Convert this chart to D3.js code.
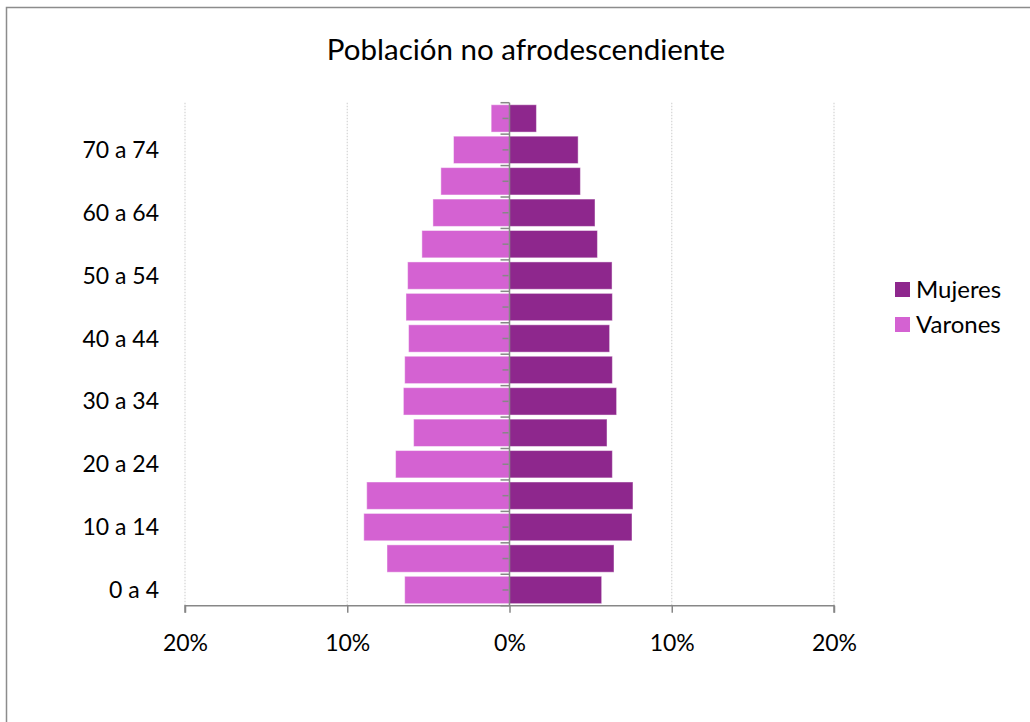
<!DOCTYPE html>
<html>
<head>
<meta charset="utf-8">
<script src="https://cdn.jsdelivr.net/npm/d3@7"></script>
<style>
  html, body { margin: 0; padding: 0; background: #fff; }
  svg { display: block; font-family: Lato, "Open Sans", sans-serif; }
</style>
</head>
<body>
<svg id="chart" width="1030" height="722"></svg>
<script>
// Age groups, from youngest to oldest
const ageGroups = ["0 a 4", "5 a 9", "10 a 14", "15 a 19", "20 a 24", "25 a 29", "30 a 34", "35 a 39",
                   "40 a 44", "45 a 49", "50 a 54", "55 a 59", "60 a 64", "65 a 69", "70 a 74", "75 y más"];
// Share of total population (%) by age group
const mujeres = [5.68, 6.44, 7.55, 7.61, 6.34, 6.01, 6.60, 6.34, 6.17, 6.34, 6.32, 5.42, 5.27, 4.37, 4.23, 1.66];
const varones = [6.46, 7.55, 8.98, 8.80, 7.02, 5.91, 6.54, 6.46, 6.22, 6.38, 6.28, 5.40, 4.72, 4.23, 3.45, 1.13];
// Axis ticks (%), shown as absolute values
const xTicks = [-20, -10, 0, 10, 20];
const seriesNames = ["Mujeres", "Varones"];
const seriesColors = ["#8E278D", "#D462D2"];

const svg = d3.select("#chart");

// Outer frame
svg.append("rect")
  .attr("x", 6.5).attr("y", 7.5)
  .attr("width", 1040).attr("height", 740)
  .attr("fill", "none").attr("stroke", "#8c8c8c").attr("stroke-width", 1.5);

// Title
svg.append("text")
  .attr("x", 526).attr("y", 60)
  .attr("text-anchor", "middle")
  .attr("font-size", 29.5)
  .attr("fill", "#000")
  .text("Población no afrodescendiente");

const x = d3.scaleLinear().domain([-20, 20]).range([185, 834]);
const y = d3.scaleBand()
  .domain(ageGroups.slice().reverse())
  .range([102.7, 605.7])
  .paddingInner(0.13)
  .paddingOuter(0.065);

const plotTop = 102.7, plotBottom = 605.7;

// Vertical dotted gridlines
svg.append("g")
  .selectAll("line")
  .data(xTicks.filter(t => t !== 0))
  .join("line")
  .attr("x1", d => x(d)).attr("x2", d => x(d))
  .attr("y1", plotTop).attr("y2", plotBottom)
  .attr("stroke", "#d4d4d4")
  .attr("stroke-width", 1.2)
  .attr("stroke-dasharray", "1.5,1.5");

// Bars
const rows = ageGroups.map((g, i) => ({ group: g, m: mujeres[i], v: varones[i] }));

svg.append("g")
  .selectAll("rect")
  .data(rows)
  .join("rect")
  .attr("x", d => x(-d.v))
  .attr("y", d => y(d.group))
  .attr("width", d => x(0) - x(-d.v))
  .attr("height", y.bandwidth())
  .attr("fill", seriesColors[1])
  .attr("stroke", "rgba(255,255,255,0.45)")
  .attr("stroke-width", 1);

svg.append("g")
  .selectAll("rect")
  .data(rows)
  .join("rect")
  .attr("x", x(0))
  .attr("y", d => y(d.group))
  .attr("width", d => x(d.m) - x(0))
  .attr("height", y.bandwidth())
  .attr("fill", seriesColors[0])
  .attr("stroke", "rgba(255,255,255,0.45)")
  .attr("stroke-width", 1);

// Category axis at 0%
const axisColor = "#878787";
const yAxis = svg.append("g");
yAxis.append("line")
  .attr("x1", x(0)).attr("x2", x(0))
  .attr("y1", plotTop).attr("y2", plotBottom)
  .attr("stroke", axisColor).attr("stroke-width", 1.5);
// Ticks on band boundaries
const step = y.step();
const boundaries = d3.range(ageGroups.length + 1).map(i => plotTop + i * step);
yAxis.selectAll("line.b")
  .data(boundaries)
  .join("line")
  .attr("class", "b")
  .attr("x1", x(0) - 9).attr("x2", x(0))
  .attr("y1", d => d).attr("y2", d => d)
  .attr("stroke", axisColor).attr("stroke-width", 1.5);
// Ticks at band centres
yAxis.selectAll("line.c")
  .data(ageGroups)
  .join("line")
  .attr("class", "c")
  .attr("x1", x(0) - 7).attr("x2", x(0) - 1)
  .attr("y1", d => y(d) + y.bandwidth() / 2).attr("y2", d => y(d) + y.bandwidth() / 2)
  .attr("stroke", axisColor).attr("stroke-width", 1.5);

// Category labels (every second group)
svg.append("g")
  .selectAll("text")
  .data(ageGroups.filter((g, i) => i % 2 === 0))
  .join("text")
  .attr("x", 159)
  .attr("y", d => y(d) + y.bandwidth() / 2)
  .attr("dy", "0.35em")
  .attr("text-anchor", "end")
  .attr("font-size", 23)
  .attr("fill", "#000")
  .text(d => d);

// Value axis
const xAxis = d3.axisBottom(x)
  .tickValues(xTicks)
  .tickSize(7)
  .tickPadding(22)
  .tickFormat(d => Math.abs(d) + "%");

const gx = svg.append("g")
  .attr("transform", `translate(0,${plotBottom})`)
  .call(xAxis);
gx.select(".domain").attr("stroke", axisColor).attr("stroke-width", 1.5)
  .attr("d", `M${x(-20)},7V0H${x(20)}V7`);
gx.selectAll(".tick line").attr("stroke", axisColor).attr("stroke-width", 1.5);
gx.selectAll(".tick text")
  .attr("font-size", 23)
  .attr("font-family", "Lato, 'Open Sans', sans-serif")
  .attr("fill", "#000");

// Legend
const legend = svg.append("g")
  .selectAll("g")
  .data(seriesNames)
  .join("g")
  .attr("transform", (d, i) => `translate(895,${282 + i * 35})`);
legend.append("rect")
  .attr("width", 15).attr("height", 15)
  .attr("fill", (d, i) => seriesColors[i]);
legend.append("text")
  .attr("x", 21).attr("y", 7.5)
  .attr("dy", "0.35em")
  .attr("font-size", 24)
  .attr("fill", "#000")
  .text(d => d);
</script>
</body>
</html>
